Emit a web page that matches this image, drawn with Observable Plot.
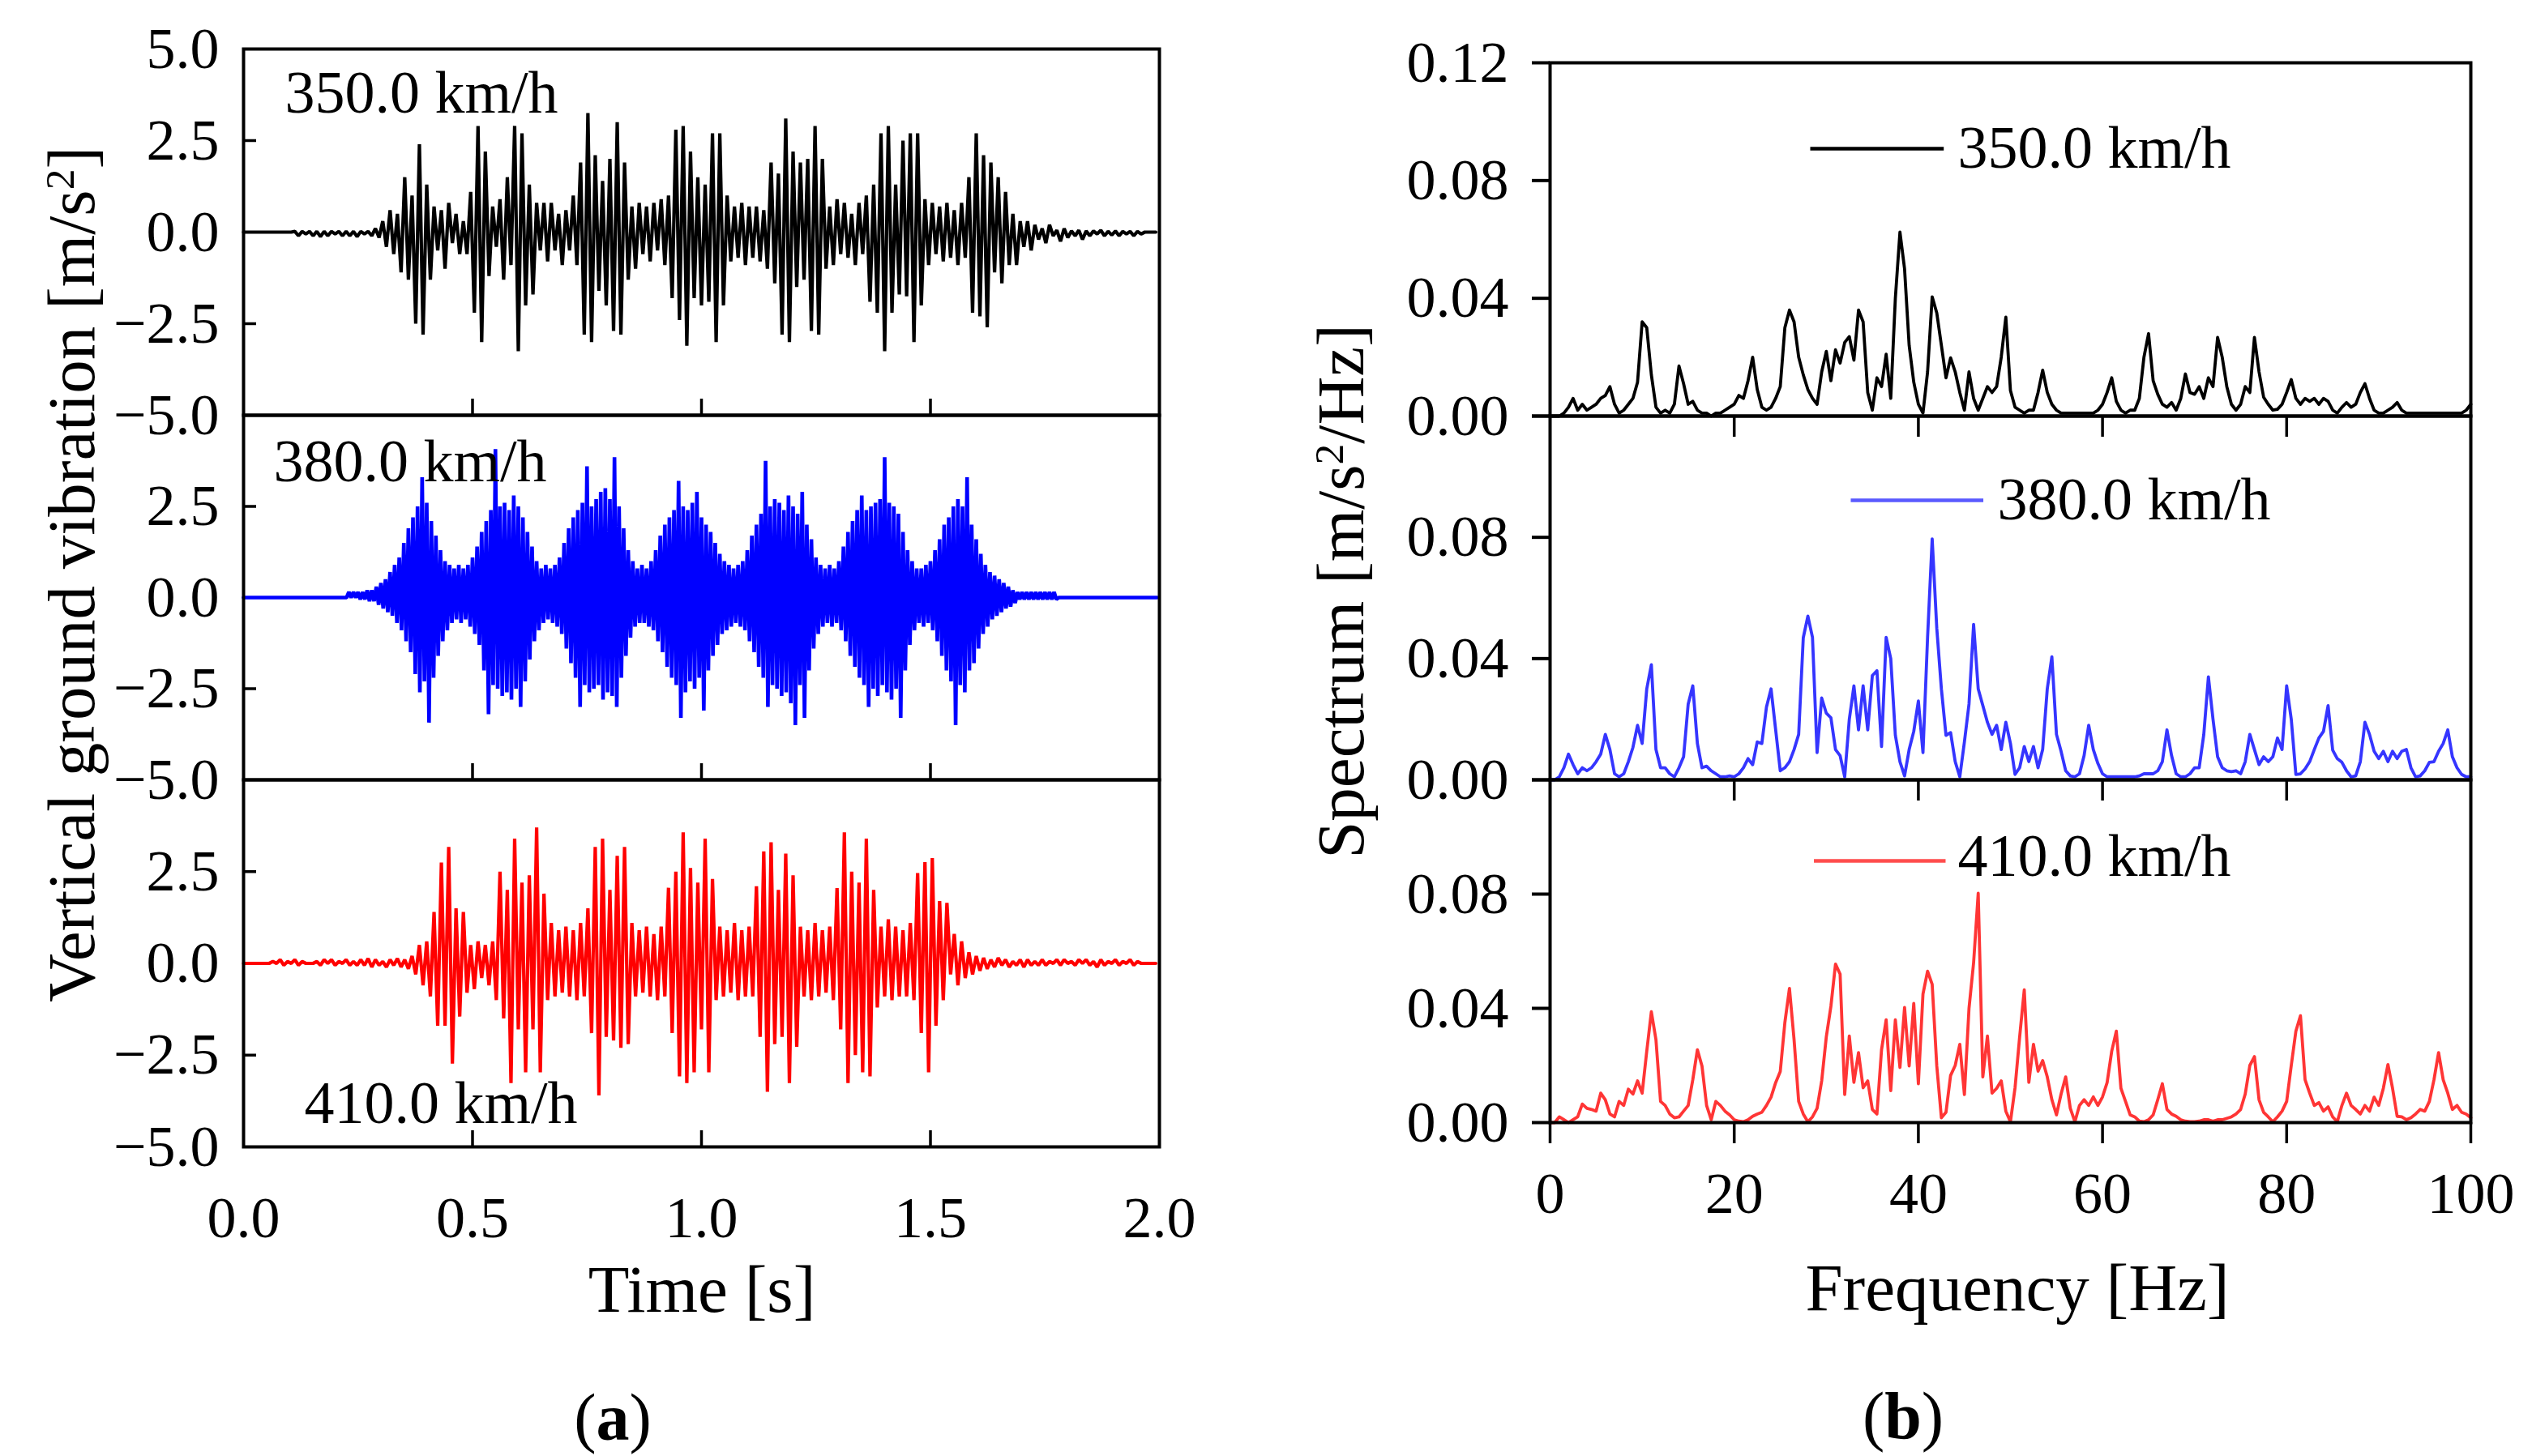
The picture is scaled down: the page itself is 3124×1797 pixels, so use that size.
<!DOCTYPE html>
<html>
<head>
<meta charset="utf-8">
<script src="https://cdn.jsdelivr.net/npm/d3@7"></script>
<script src="https://cdn.jsdelivr.net/npm/@observablehq/plot@0.6"></script>
<style>
  body { margin: 0; background: #fff; }
  #page { position: relative; width: 3124px; height: 1797px; background: #fff; overflow: hidden;
          font-family: "Liberation Serif", "DejaVu Serif", serif; color: #000; }
  .txt { position: absolute; white-space: nowrap; line-height: 1; }
  .sup { font-size: 0.62em; vertical-align: 0.48em; }
</style>
</head>
<body>
<div id="page"></div>
<script>
// ---- time signals: peak (up) and trough (dn) per step ----
const dt350 = 0.016;
const up350 = [
  0,0,0,0,0,0,0,.02,.02,.02,
  .02,.02,.02,.02,.02,.02,.02,.02,.1,.3,
  .6,.5,1.5,1.0,2.4,1.3,.7,.6,.8,.5,
  .3,1.1,2.9,2.2,.7,.9,1.5,2.9,2.7,1.3,
  .8,.8,.8,.5,.6,1.0,1.9,3.25,2.1,1.4,
  2.0,3.0,1.9,.7,.8,.7,.8,.9,1.0,2.8,
  2.9,2.2,1.5,1.3,2.7,2.7,1.0,.7,.8,.7,
  .7,.6,1.9,1.6,3.1,2.2,1.9,2.0,2.9,2.0,
  .7,.9,.8,.5,.8,1.0,1.3,2.7,2.9,1.3,
  2.5,2.7,2.7,.9,.8,.7,.8,.6,.8,1.5,
  2.7,2.1,1.9,1.5,1.1,.5,.3,.3,.2,.1,
  .2,.05,.1,.03,.05,.03,.03,.05,.02,.03,
  .02,.02,.02,0,0
];
const dn350 = [
  0,0,0,0,0,0,0,-.1,-.05,-.1,
  -.12,-.1,-.05,-.1,-.1,-.12,-.05,-.1,-.15,-.4,
  -.6,-1.1,-1.3,-2.5,-2.8,-1.3,-.5,-1.0,-.3,-.6,
  -.6,-2.2,-3.0,-1.2,-.4,-1.3,-.9,-3.25,-2.0,-1.7,
  -.5,-.8,-.5,-.9,-.5,-.9,-2.8,-3.0,-1.6,-2.0,
  -2.7,-2.8,-1.3,-1.0,-.6,-.8,-.5,-.9,-1.8,-2.4,
  -3.1,-1.8,-2.0,-1.9,-3.0,-2.0,-.8,-.7,-.9,-.7,
  -.8,-1.0,-1.4,-2.8,-3.0,-1.5,-1.3,-2.7,-2.8,-1.0,
  -.9,-.6,-.7,-.9,-.6,-1.9,-2.2,-3.25,-2.2,-1.7,
  -1.75,-3.0,-2.0,-.9,-.6,-.8,-.7,-.9,-.7,-2.2,
  -2.3,-2.6,-1.1,-1.4,-.9,-.9,-.4,-.5,-.2,-.3,
  -.1,-.25,-.15,-.1,-.2,-.1,-.05,-.1,-.08,-.1,
  -.05,-.1,-.05,0,0
];

const dt380 = 0.01;
const up380 = [
  0,0,0,0,0,0,0,0,0,0,
  0,0,0,0,0,0,0,0,0,0,
  0,0,0,.15,.15,.15,.15,.2,.2,.3,
  .4,.5,.7,.9,1.1,1.5,1.9,2.2,2.5,3.3,
  2.6,2.1,1.7,1.3,1.0,.9,.8,.9,.8,.9,
  1.1,1.4,1.8,2.1,2.4,4.07,2.5,2.6,2.4,2.8,
  2.5,2.2,1.8,1.4,1.0,.8,.9,.8,.9,1.1,
  1.5,1.9,2.2,2.4,2.6,3.6,2.5,2.7,2.9,3.0,
  2.7,3.85,2.5,1.9,1.3,1.0,.8,.9,.8,1.0,
  1.3,1.7,2.0,2.2,2.4,3.2,2.5,2.4,2.6,2.9,
  2.2,2.0,1.8,1.5,1.2,1.0,.9,.8,.9,1.0,
  1.3,1.7,2.0,2.3,3.75,2.5,2.7,2.6,2.4,2.8,
  2.5,2.3,2.9,2.0,1.6,1.1,.9,.8,.9,.8,
  1.0,1.4,1.8,2.1,2.4,2.8,2.4,2.5,2.6,2.7,
  3.85,2.6,2.5,2.3,1.8,1.3,1.0,.8,.8,.9,
  1.0,1.3,1.6,2.0,2.2,2.5,2.7,2.5,3.3,2.0,
  1.6,1.2,.9,.7,.6,.5,.4,.3,.2,.15,
  .15,.15,.15,.15,.15,.15,.15,.15,0,0,
  0,0,0,0,0,0,0,0,0,0,
  0,0,0,0,0,0,0,0,0,0
];
const dn380 = [
  0,0,0,0,0,0,0,0,0,0,
  0,0,0,0,0,0,0,0,0,0,
  0,0,0,0,0,-.05,-.05,-.1,-.1,-.2,
  -.3,-.4,-.5,-.7,-.9,-1.2,-1.5,-2.1,-2.6,-2.3,
  -3.43,-2.2,-1.6,-1.2,-.9,-.7,-.6,-.7,-.6,-.8,
  -1.0,-1.3,-2.0,-3.2,-2.4,-2.5,-2.7,-2.6,-2.8,-2.5,
  -3.0,-2.3,-1.7,-1.2,-.9,-.7,-.6,-.7,-.8,-1.0,
  -1.4,-1.8,-2.2,-3.0,-2.4,-2.6,-2.5,-2.4,-2.8,-2.6,
  -2.7,-3.0,-2.2,-1.6,-1.1,-.8,-.7,-.7,-.8,-.9,
  -1.2,-1.5,-1.9,-2.2,-2.4,-3.3,-2.6,-2.3,-2.5,-2.2,
  -3.1,-2.0,-1.6,-1.3,-1.0,-.9,-.8,-.7,-.8,-.9,
  -1.2,-1.5,-1.9,-2.2,-3.0,-2.4,-2.5,-2.7,-2.6,-2.9,
  -3.5,-2.4,-3.3,-2.0,-1.4,-1.0,-.8,-.7,-.8,-.7,
  -.9,-1.2,-1.6,-1.9,-2.2,-2.4,-3.0,-2.5,-2.7,-2.4,
  -2.6,-2.8,-2.5,-3.3,-2.0,-1.3,-.9,-.7,-.8,-.7,
  -.9,-1.2,-1.6,-2.0,-2.3,-3.5,-2.4,-2.6,-2.0,-1.8,
  -1.4,-1.0,-.8,-.6,-.5,-.4,-.3,-.25,-.15,-.05,
  -.05,-.05,-.05,-.05,-.05,-.05,-.05,-.05,0,0,
  0,0,0,0,0,0,0,0,0,0,
  0,0,0,0,0,0,0,0,0,0
];

const dt410 = 0.016;
const up410 = [
  0,0,0,0,.05,.1,.05,.1,.05,0,
  .05,.1,.1,.05,.1,.05,.1,.13,.1,.05,
  .1,.13,.1,.2,.5,.6,1.4,2.75,3.17,1.5,
  1.4,.5,.6,.5,.6,2.5,2.0,3.4,2.2,2.4,
  3.7,1.9,1.1,.9,1.0,.9,1.1,1.5,3.17,3.4,
  2.0,2.93,3.17,1.1,.9,1.0,.8,1.0,2.06,2.5,
  3.57,2.6,2.2,3.4,2.3,1.0,.9,1.1,.9,1.0,
  2.1,3.05,3.3,2.0,2.99,2.4,1.0,.9,1.1,.9,
  1.0,2.05,3.57,2.5,2.2,3.4,2.0,1.0,1.2,1.0,
  .9,1.1,2.46,2.76,2.87,1.7,1.65,.8,.6,.3,
  .2,.15,.1,.15,.1,.05,.1,.1,.05,.1,
  .05,.1,.1,.05,.1,.1,.05,.1,.05,.1,
  .05,.1,.05,0,0
];
const dn410 = [
  0,0,0,0,0,-.05,0,-.05,0,0,
  -.05,0,-.05,0,-.05,-.05,-.05,-.1,-.05,-.1,
  -.05,-.1,-.15,-.3,-.6,-.9,-1.7,-1.7,-2.73,-1.45,
  -.8,-.7,-.4,-.6,-1.0,-1.5,-3.26,-1.8,-2.97,-1.8,
  -2.97,-1.0,-.9,-.8,-.9,-1.0,-.9,-1.9,-3.6,-2.0,
  -2.1,-2.3,-2.2,-.9,-.8,-.9,-1.0,-.9,-1.9,-3.08,
  -3.26,-2.97,-1.8,-2.97,-1.0,-.9,-.8,-1.0,-.9,-.9,
  -2.0,-3.5,-2.2,-2.0,-3.26,-2.27,-.9,-1.0,-.9,-.8,
  -1.0,-1.8,-3.26,-2.5,-2.97,-3.08,-1.2,-.9,-1.0,-.9,
  -.9,-1.0,-1.9,-2.97,-1.7,-1.0,-.3,-.6,-.4,-.3,
  -.2,-.15,-.1,-.05,-.1,-.05,-.1,-.05,-.05,-.05,
  0,-.05,0,-.05,0,-.05,-.1,-.05,0,-.05,
  0,-.05,0,0,0
];

// ---- spectra, 0.5 Hz steps from 0 to 100 Hz ----
const df = 0.5;
const spec350 = [
  0,0,0,.001,.003,.006,.002,.004,.002,.003,
  .004,.006,.007,.010,.004,.001,.002,.004,.006,.0115,
  .032,.030,.014,.003,.001,.002,.001,.004,.017,.011,
  .004,.005,.002,.001,.001,0,.001,.001,.002,.003,
  .004,.007,.006,.012,.020,.009,.003,.002,.003,.006,
  .010,.030,.036,.032,.020,.014,.009,.006,.004,.015,
  .022,.012,.0225,.018,.025,.027,.019,.036,.032,.008,
  .002,.013,.010,.021,.006,.040,.0625,.050,.024,.0115,
  .004,.001,.015,.0405,.035,.024,.013,.0198,.015,.008,
  .002,.015,.006,.002,.006,.010,.008,.010,.020,.0336,
  .0087,.003,.002,.001,.002,.002,.008,.0156,.008,.004,
  .002,.001,.001,.001,.001,.001,.001,.001,.001,.002,
  .004,.008,.013,.005,.002,.001,.002,.002,.006,.020,
  .028,.012,.0074,.004,.003,.0046,.002,.006,.0143,.008,
  .0074,.010,.006,.013,.010,.0267,.020,.010,.004,.002,
  .004,.010,.008,.0267,.015,.0064,.004,.002,.0023,.004,
  .008,.0124,.006,.004,.006,.005,.006,.004,.006,.005,
  .002,.001,.003,.0046,.003,.004,.008,.011,.006,.002,
  .001,.001,.002,.003,.0046,.002,.001,.001,.001,.001,
  .001,.001,.001,.001,.001,.001,.001,.001,.001,.002,
  .004
];
const spec380 = [
  0,0,.001,.004,.0085,.005,.002,.004,.003,.004,
  .006,.0085,.015,.010,.002,.001,.002,.006,.0107,.018,
  .012,.030,.038,.010,.004,.004,.002,.001,.004,.0076,
  .025,.031,.012,.004,.0045,.003,.002,.001,.001,.0013,
  .001,.002,.004,.007,.005,.0125,.012,.024,.030,.0165,
  .003,.004,.006,.010,.015,.0469,.054,.047,.009,.027,
  .022,.0205,.010,.008,.001,.020,.031,.0165,.031,.0165,
  .0344,.036,.011,.047,.040,.0147,.006,.0013,.010,.016,
  .026,.009,.047,.0795,.050,.030,.0147,.0156,.006,.001,
  .0125,.025,.0513,.030,.0245,.019,.015,.018,.010,.019,
  .012,.0018,.004,.011,.006,.011,.004,.010,.030,.0406,
  .015,.0094,.003,.0013,.001,.002,.008,.018,.010,.0054,
  .002,.001,.001,.001,.001,.001,.001,.001,.0013,.002,
  .002,.002,.003,.006,.0165,.008,.002,.001,.001,.002,
  .004,.004,.015,.034,.020,.0076,.004,.003,.0027,.003,
  .002,.006,.015,.010,.005,.0076,.006,.0076,.0138,.010,
  .031,.020,.0018,.002,.0036,.006,.010,.0138,.016,.0245,
  .0098,.007,.0058,.003,.001,.0013,.006,.019,.015,.0094,
  .007,.0094,.006,.0094,.007,.0094,.010,.004,.001,.0013,
  .003,.0058,.006,.0094,.012,.0165,.0076,.004,.0018,.001,
  .001
];
const spec410 = [
  0,0,.002,.001,0,.001,.002,.0065,.005,.0046,
  .004,.0103,.008,.003,.002,.0074,.006,.0117,.010,.0146,
  .0103,.025,.0388,.029,.0074,.006,.003,.0017,.002,.004,
  .006,.015,.0255,.0198,.006,.001,.0074,.006,.004,.0027,
  .001,.0005,.0003,.001,.0022,.003,.0036,.006,.0089,.014,
  .0179,.035,.047,.029,.0074,.003,.0003,.002,.005,.0146,
  .030,.0407,.0555,.052,.0098,.0303,.0141,.0245,.0122,.0146,
  .0046,.003,.0255,.036,.0112,.036,.0193,.0403,.0198,.0417,
  .0136,.045,.053,.0484,.0198,.0017,.0036,.0165,.020,.0274,
  .0098,.040,.056,.0803,.016,.0303,.0103,.012,.0146,.004,
  .0003,.0122,.030,.0465,.0141,.0274,.018,.0217,.016,.008,
  .0027,.010,.016,.005,.0003,.006,.008,.006,.009,.006,
  .009,.014,.025,.032,.012,.0074,.0027,.002,.0005,.0003,
  .001,.0027,.008,.0136,.0046,.003,.0022,.001,.0005,.0003,
  .0003,.0005,.001,.001,.0005,.001,.001,.0015,.002,.003,
  .0046,.010,.020,.0231,.008,.0036,.002,.0003,.002,.004,
  .0074,.020,.032,.0374,.015,.0103,.006,.007,.004,.0055,
  .002,.0003,.006,.0103,.006,.0046,.003,.006,.004,.0089,
  .006,.012,.0203,.012,.0022,.002,.001,.0017,.003,.0046,
  .004,.0074,.015,.0245,.015,.0103,.0046,.006,.0036,.003,
  .0017
];

// ---- ticks and labels ----
const speeds = ["350.0 km/h", "380.0 km/h", "410.0 km/h"];
const timeTicks = [0, 0.5, 1, 1.5, 2];
const timeInner = [0.5, 1, 1.5];
const accelTopLabels = [5, 2.5, 0, -2.5, -5];
const accelLabels = [2.5, 0, -2.5, -5];
const accelInner = [2.5, -2.5];
const freqTicks = [0, 20, 40, 60, 80, 100];
const freqInner = [20, 40, 60, 80];
const specTopLabels = [0.12, 0.08, 0.04, 0];
const specLabels = [0.08, 0.04, 0];
const specTickVals = [0, 0.04, 0.08, 0.12];

const fmt1 = d3.format(".1f");
const fmt2 = d3.format(".2f");
const page = document.getElementById("page");
const plotStyle = {fontFamily: "'Liberation Serif', 'DejaVu Serif', serif", fontSize: "72px", overflow: "visible", background: "transparent"};

function pairRows(up, dn, dt) {
  return up.flatMap((u, i) => [{t: i * dt, v: u}, {t: i * dt + dt / 2, v: dn[i]}]);
}

function place(node, left, top) {
  node.style.position = "absolute";
  node.style.left = left + "px";
  node.style.top = top + "px";
  page.append(node);
}

function addText(html, x, y, size, rotate) {
  const el = document.createElement("div");
  el.className = "txt";
  el.innerHTML = html;
  el.style.left = x + "px";
  el.style.top = y + "px";
  el.style.fontSize = size + "px";
  el.style.transform = "translate(-50%, -50%)" + (rotate ? " rotate(-90deg)" : "");
  page.append(el);
}

// left column: time histories
const leftPanels = [
  {up: up350, dn: dn350, dt: dt350, color: "#000000", width: 4.2, top: 60, height: 452, labels: accelTopLabels,
   speed: speeds[0], anchor: "top-left", dx: 51, dy: 78},
  {up: up380, dn: dn380, dt: dt380, color: "#0000ff", width: 4.6, top: 512, height: 450, labels: accelLabels,
   speed: speeds[1], anchor: "top-left", dx: 37, dy: 81},
  {up: up410, dn: dn410, dt: dt410, color: "#ff0000", width: 4.2, top: 962, height: 453, labels: accelLabels,
   speed: speeds[2], anchor: "bottom-left", dx: 75, dy: -30, xLabels: true}
];

for (const p of leftPanels) {
  const marks = [
    Plot.line(pairRows(p.up, p.dn, p.dt), {x: "t", y: "v", stroke: p.color, strokeWidth: p.width, strokeLinejoin: "miter"}),
    Plot.frame({strokeWidth: 4}),
    Plot.axisY(accelInner, {anchor: "left", tickSize: 16, dx: 16, fill: "none", strokeWidth: 3.5}),
    Plot.axisY(p.labels, {anchor: "left", tickSize: 0, tickPadding: 30, tickFormat: fmt1, label: null}),
    Plot.axisX(timeInner, {anchor: "bottom", tickSize: 20, dy: -20, fill: "none", strokeWidth: 3.5}),
    Plot.text([p.speed], {text: d => d, frameAnchor: p.anchor, dx: p.dx, dy: p.dy,
      textAnchor: "start", lineAnchor: "bottom", fontSize: 74})
  ];
  if (p.xLabels) {
    marks.push(Plot.axisX(timeTicks, {anchor: "bottom", tickSize: 0, tickPadding: 60, tickFormat: fmt1, label: null}));
  }
  const chart = Plot.plot({
    width: 1458, height: p.height,
    marginLeft: 300, marginRight: 28, marginTop: 0, marginBottom: 0,
    x: {domain: [0, 2]}, y: {domain: [-5, 5]},
    style: plotStyle, marks
  });
  place(chart, 0, p.top);
}

// right column: spectra
const rightPanels = [
  {spec: spec350, color: "#000000", legendColor: "#000000", top: 77, height: 436, labels: specTopLabels,
   legend: {x1: 28.3, x2: 42.8, y: 0.0908, dx: 503, dy: 129}},
  {spec: spec380, color: "#3535ff", legendColor: "#5a5aff", top: 513, height: 449, labels: specLabels,
   legend: {x1: 32.7, x2: 47.1, y: 0.0922, dx: 552, dy: 127}},
  {spec: spec410, color: "#ff3535", legendColor: "#ff4d4d", top: 962, height: 423, labels: specLabels,
   legend: {x1: 28.7, x2: 43.0, y: 0.0916, dx: 503, dy: 118}, xLabels: true}
];

rightPanels.forEach((p, k) => {
  const rows = p.spec.map((v, i) => ({f: i * df, v}));
  const marks = [
    Plot.line(rows, {x: "f", y: "v", stroke: p.color, strokeWidth: 3.8}),
    Plot.frame({strokeWidth: 4}),
    Plot.axisY(specTickVals, {anchor: "left", tickSize: 22, fill: "none", strokeWidth: 4}),
    Plot.axisY(p.labels, {anchor: "left", tickSize: 0, tickPadding: 51, tickFormat: fmt2, label: null}),
    Plot.axisX(p.xLabels ? freqTicks : freqInner, {anchor: "bottom", tickSize: 26, fill: "none", strokeWidth: 3.5}),
    Plot.ruleY([p.legend.y], {x1: p.legend.x1, x2: p.legend.x2, stroke: p.legendColor, strokeWidth: 4.5}),
    Plot.text([speeds[k]], {text: d => d, frameAnchor: "top-left", dx: p.legend.dx, dy: p.legend.dy,
      textAnchor: "start", lineAnchor: "bottom", fontSize: 74})
  ];
  if (p.xLabels) {
    marks.push(Plot.axisX(freqTicks, {anchor: "bottom", tickSize: 0, tickPadding: 60, tickFormat: d => String(d), label: null}));
  }
  const chart = Plot.plot({
    width: 1574, height: p.height,
    marginLeft: 362, marginRight: 76, marginTop: 0, marginBottom: 0,
    x: {domain: [0, 100]}, y: {domain: [0, 0.12]},
    style: plotStyle, marks
  });
  place(chart, 1550, p.top);
});

// axis titles and captions
addText('Vertical ground vibration [m/s<span class="sup">2</span>]', 88, 709, 83, true);
addText("Time [s]", 866, 1591, 83);
addText("(<b>a</b>)", 756, 1750, 82);
addText('Spectrum [m/s<span class="sup">2</span>/Hz]', 1654, 730, 83, true);
addText("Frequency [Hz]", 2489, 1589, 83);
addText("(<b>b</b>)", 2348, 1748, 82);
</script>
</body>
</html>
